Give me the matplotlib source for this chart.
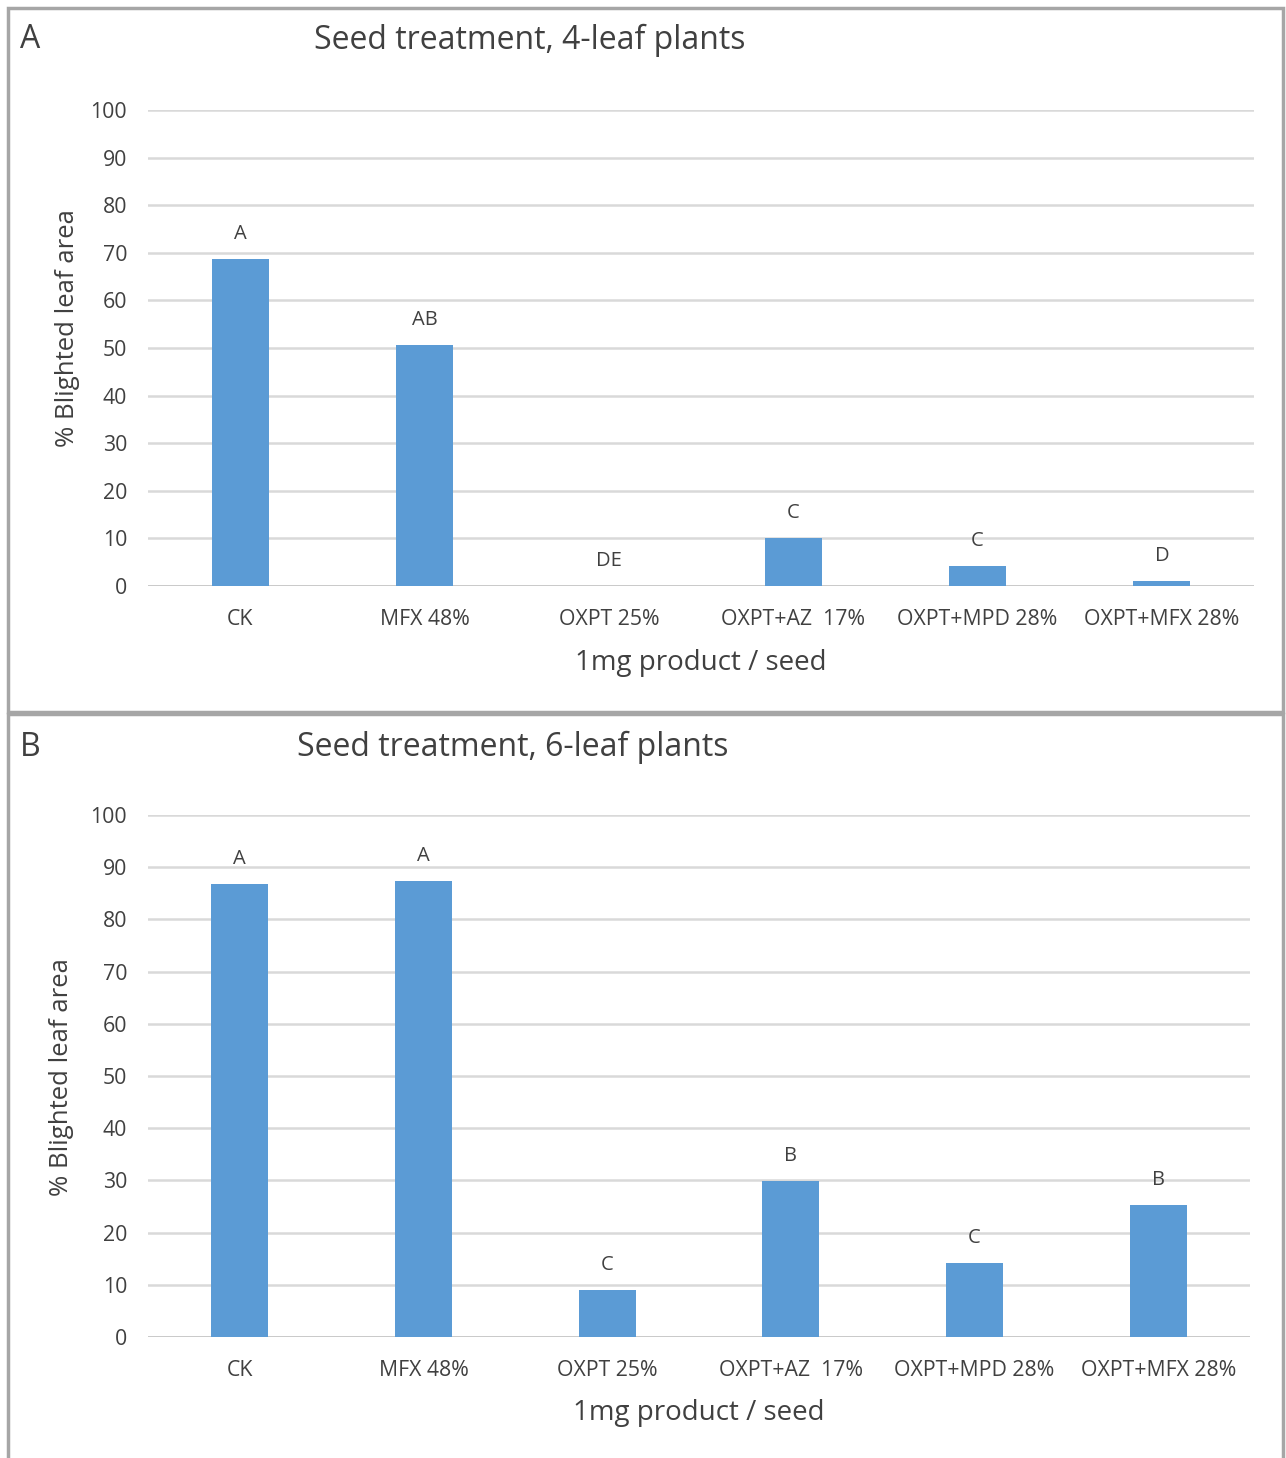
import matplotlib
matplotlib.use("Agg")
import matplotlib.pyplot as plt
from matplotlib.patches import Rectangle

plt.rcParams['font.family'] = ['Open Sans', 'DejaVu Sans']

categories = ["CK", "MFX 48%", "OXPT 25%", "OXPT+AZ  17%", "OXPT+MPD 28%", "OXPT+MFX 28%"]
values_4leaf = [68.7, 50.6, 0.0, 10.1, 4.2, 1.0]
letters_4leaf = ["A", "AB", "DE", "C", "C", "D"]
values_6leaf = [86.8, 87.4, 9.0, 29.9, 14.2, 25.3]
letters_6leaf = ["A", "A", "C", "B", "C", "B"]
yticks = list(range(0, 101, 10))

W, H = 1286, 1458
fig = plt.figure(figsize=(W / 100, H / 100), dpi=100)

def fx(px):
    return px / W

def fy(py):
    return 1 - py / H

# panel borders
for (x0, y0, x1, y1) in [(8, 8, 1283, 712), (8, 714, 1283, 1462)]:
    fig.patches.append(Rectangle((fx(x0), fy(y1)), fx(x1 - x0), fy(y0) - fy(y1),
                                 transform=fig.transFigure, fill=False,
                                 edgecolor="#a6a6a6", linewidth=2.5, zorder=0))

text_col = "#404040"
bar_col = "#5b9bd5"

def panel(rect, vals, letters, title, title_xy, letter_xy, ylab_xy, xlab_y):
    ax = fig.add_axes(rect)
    x = list(range(len(categories)))
    ax.bar(x, vals, width=0.31, color=bar_col, zorder=3)
    for xi, v, l in zip(x, vals, letters):
        ax.annotate(l, (xi, v), xytext=(0, 18), textcoords="offset points",
                    ha="center", va="center", fontsize=14.5, color=text_col)
    ax.set_xlim(-0.5, len(categories) - 0.5)
    ax.set_ylim(0, 100)
    ax.set_yticks(yticks)
    ax.set_xticks(x)
    ax.set_xticklabels(categories)
    ax.tick_params(axis="both", length=0, labelsize=15.3, colors=text_col)
    ax.tick_params(axis="y", pad=15)
    ax.tick_params(axis="x", pad=16.5)
    for s in ax.spines.values():
        s.set_visible(False)
    ax.grid(axis="y", color="#d9d9d9", linewidth=1.8, zorder=0)
    ax.axhline(0, color="#c8c8c8", linewidth=2, zorder=2)
    ax.set_axisbelow(True)
    fig.text(fx(title_xy[0]), fy(title_xy[1]), title, ha="center", va="center",
             fontsize=23, color=text_col)
    fig.text(fx(letter_xy[0]), fy(letter_xy[1]), letter_xy[2], ha="center", va="center",
             fontsize=23, color=text_col)
    fig.text(fx(ylab_xy[0]), fy(ylab_xy[1]), "% Blighted leaf area", ha="center",
             va="center", rotation=90, fontsize=18.5, color=text_col)
    fig.text(rect[0] + rect[2] / 2, fy(xlab_y), "1mg product / seed", ha="center",
             va="center", fontsize=20, color=text_col)
    return ax

panel([fx(148), fy(586), fx(1254 - 148), fy(110) - fy(586)], values_4leaf, letters_4leaf,
      "Seed treatment, 4-leaf plants", (530, 40), (30, 40, "A"), (67, 328), 663)
panel([fx(148), fy(1337), fx(1250 - 148), fy(815) - fy(1337)], values_6leaf, letters_6leaf,
      "Seed treatment, 6-leaf plants", (513, 747), (30, 747, "B"), (62, 1077), 1413)

fig.savefig("out.png", dpi=100)
